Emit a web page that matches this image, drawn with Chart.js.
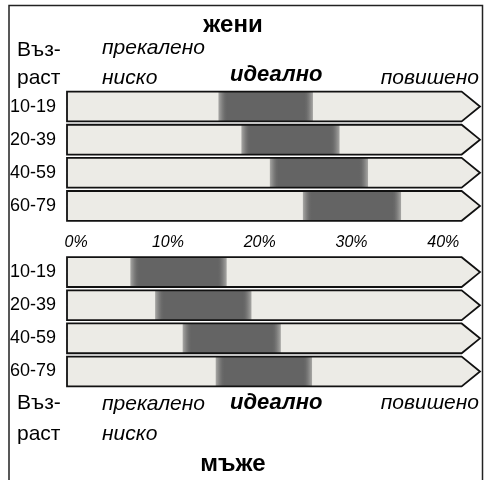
<!DOCTYPE html>
<html>
<head>
<meta charset="utf-8">
<script src="https://cdn.jsdelivr.net/npm/chart.js@4/dist/chart.umd.min.js"></script>
<style>
  html, body { margin: 0; padding: 0; background: #fff; }
  #wrap { position: relative; width: 487px; height: 480px; }
</style>
</head>
<body>
<div id="wrap"><canvas id="c" width="487" height="480"></canvas></div>
<script>
// ---- data ----
const ageGroups = ['10-19', '20-39', '40-59', '60-79'];
const womenLow  = [15.5, 18.0, 21.1, 24.7];
const womenHigh = [25.8, 28.7, 31.8, 35.4];
const menLow    = [5.9, 8.6, 11.6, 15.2];
const menHigh   = [16.4, 19.1, 22.3, 25.7];
const tickValues = [0, 10, 20, 30, 40];
const scaleStart = -1;
const scaleEnd = 42;
const arrowEnd = 44;
const titleWomen = 'жени';
const titleMen = 'мъже';
const ageHeader = ['Въз-', 'раст'];
const zoneLow = ['прекалено', 'ниско'];
const zoneIdeal = 'идеално';
const zoneHigh = 'повишено';

// ---- build chart data ----
const labels = [...ageGroups, '', ...ageGroups];
const lows = [...womenLow, null, ...menLow];
const highs = [...womenHigh, null, ...menHigh];
const idealData = lows.map((l, i) => l === null ? null : [l, highs[i]]);
const bgData = lows.map(l => l === null ? null : [scaleStart, scaleEnd]);

const LIGHT = '#ecebe6';
const DARK = '#646464';
const FADE = 0.95; // percent of blur on each side of the ideal range edges

function idealGradient(ctx) {
  const chart = ctx.chart;
  const x = chart.scales.x;
  if (!x || !Array.isArray(ctx.raw)) return DARK;
  const [lo, hi] = ctx.raw;
  const p0 = x.getPixelForValue(lo - FADE);
  const p1 = x.getPixelForValue(lo + FADE);
  const p2 = x.getPixelForValue(hi - FADE);
  const p3 = x.getPixelForValue(hi + FADE);
  if (![p0, p1, p2, p3].every(Number.isFinite) || p3 <= p0) return DARK;
  const g = chart.ctx.createLinearGradient(p0, 0, p3, 0);
  const w = p3 - p0;
  const N = 8;
  for (let k = 0; k <= N; k++) {
    const t = k / N;
    const s = t * t * (3 - 2 * t);
    const a = s.toFixed(3);
    g.addColorStop(((p1 - p0) * t) / w, 'rgba(100,100,100,' + a + ')');
    g.addColorStop((p2 - p0 + (p3 - p2) * t) / w, 'rgba(100,100,100,' + (1 - s).toFixed(3) + ')');
  }
  return g;
}

const arrowPlugin = {
  id: 'arrows',
  afterDatasetsDraw(chart) {
    const meta = chart.getDatasetMeta(1);
    const x = chart.scales.x;
    const tip = x.getPixelForValue(arrowEnd);
    const c = chart.ctx;
    c.save();
    meta.data.forEach((el, i) => {
      if (bgData[i] === null) return;
      const p = el.getProps(['x', 'y', 'base', 'height'], true);
      const left = Math.min(p.x, p.base), right = Math.max(p.x, p.base);
      const top = p.y - p.height / 2, bot = p.y + p.height / 2;
      c.beginPath();
      c.moveTo(right - 0.5, top);
      c.lineTo(tip, p.y);
      c.lineTo(right - 0.5, bot);
      c.closePath();
      c.fillStyle = LIGHT;
      c.fill();
      c.beginPath();
      c.moveTo(left, top);
      c.lineTo(right, top);
      c.lineTo(tip, p.y);
      c.lineTo(right, bot);
      c.lineTo(left, bot);
      c.closePath();
      c.lineWidth = 1.8;
      c.strokeStyle = '#111';
      c.lineJoin = 'miter';
      c.stroke();
    });
    c.restore();
  }
};

const textPlugin = {
  id: 'texts',
  afterDraw(chart) {
    const c = chart.ctx;
    c.save();
    c.fillStyle = '#000';
    c.textBaseline = 'middle';
    const F = 'Liberation Sans, Arial, sans-serif';
    c.textAlign = 'center';
    c.font = 'bold 24px ' + F;
    c.fillText(titleWomen, 233, 25);
    c.fillText(titleMen, 233, 464);
    c.textAlign = 'left';
    c.font = '21px ' + F;
    c.fillText(ageHeader[0], 17, 50);
    c.fillText(ageHeader[1], 17, 78);
    c.fillText(ageHeader[0], 17, 403);
    c.fillText(ageHeader[1], 17, 434);
    c.font = 'italic 21px ' + F;
    c.fillText(zoneLow[0], 102, 48);
    c.fillText(zoneLow[1], 102, 78);
    c.fillText(zoneLow[0], 102, 404);
    c.fillText(zoneLow[1], 102, 434);
    c.textAlign = 'right';
    c.fillText(zoneHigh, 479, 78);
    c.fillText(zoneHigh, 479, 403);
    c.textAlign = 'left';
    c.font = 'italic bold 22px ' + F;
    c.fillText(zoneIdeal, 230, 75);
    c.fillText(zoneIdeal, 230, 403);
    c.strokeStyle = '#222';
    c.lineWidth = 1.5;
    c.strokeRect(9, 5.5, 473.5, 490);
    c.restore();
  }
};

new Chart(document.getElementById('c'), {
  type: 'bar',
  data: {
    labels,
    datasets: [
      { label: 'ideal', data: idealData, backgroundColor: idealGradient, borderWidth: 0, order: 0 },
      { label: 'scale', data: bgData, backgroundColor: LIGHT, borderWidth: 0, order: 1 }
    ]
  },
  options: {
    responsive: false,
    animation: false,
    indexAxis: 'y',
    grouped: false,
    categoryPercentage: 1,
    barPercentage: 0.9,
    layout: { padding: { top: 90, bottom: 92, left: 10, right: 7 } },
    plugins: { legend: { display: false }, tooltip: { enabled: false }, title: { display: false } },
    scales: {
      x: {
        type: 'linear',
        min: scaleStart,
        max: arrowEnd,
        position: { y: 3.81 },
        afterBuildTicks: s => { s.ticks = tickValues.map(v => ({ value: v })); },
        grid: { display: false, drawTicks: false },
        border: { display: false },
        ticks: {
          padding: 0,
          color: '#000',
          font: { family: 'Liberation Sans, Arial, sans-serif', size: 16, style: 'italic' },
          callback: v => v + '%'
        }
      },
      y: {
        type: 'category',
        afterFit: s => { s.width = 57; },
        grid: { display: false, drawTicks: false },
        border: { display: false },
        ticks: {
          crossAlign: 'far',
          padding: 0,
          color: '#000',
          font: { family: 'Liberation Sans, Arial, sans-serif', size: 18 }
        }
      }
    }
  },
  plugins: [arrowPlugin, textPlugin]
});
</script>
</body>
</html>
